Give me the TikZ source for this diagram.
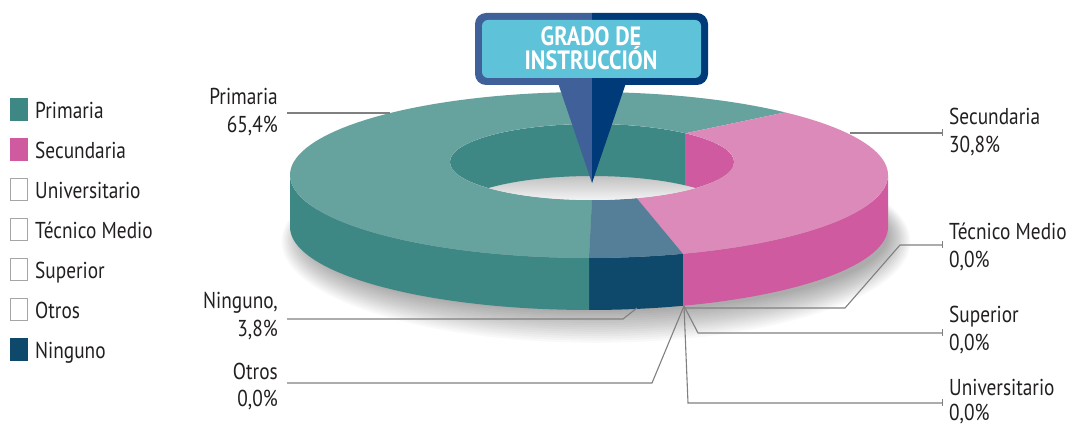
\documentclass[tikz,border=0pt]{standalone}
\usepackage{fontspec}
\setmainfont{PT Sans}[FakeStretch=0.84]
\usetikzlibrary{arrows.meta}
\definecolor{primTop}{RGB}{102,162,158}
\definecolor{primSide}{RGB}{61,136,132}
\definecolor{secTop}{RGB}{220,138,185}
\definecolor{secSide}{RGB}{208,90,160}
\definecolor{ninTop}{RGB}{85,127,152}
\definecolor{ninSide}{RGB}{14,72,106}
\definecolor{boxFill}{RGB}{94,194,216}
\definecolor{boxLeft}{RGB}{63,96,152}
\definecolor{boxRight}{RGB}{0,58,120}
\definecolor{leadGray}{RGB}{128,128,128}
\definecolor{emptyGray}{RGB}{165,165,165}
\definecolor{txt}{RGB}{35,31,32}
\def\ocx{589}\def\ocy{175}\def\orx{299}\def\ory{83}
\def\icx{592}\def\icy{162}\def\irx{142}\def\iry{38}
\def\dep{52}
\begin{document}
\begin{tikzpicture}[x=1pt,y=-1pt,
  leader/.style={draw=leadGray, line width=1.1pt},
  tickend/.style={-{Bar[width=7pt,line width=1.1pt]}},
  lbl/.style={inner sep=0pt, text=txt, font=\fontsize{23}{28}\selectfont},
  legbox/.style={line width=1.2pt},
  titletext/.style={inner sep=0pt, text=white, font=\fontsize{26.5}{24}\selectfont\bfseries}]
\useasboundingbox (0,0) rectangle (1069,427);
\fill[white] (0,0) rectangle (1069,427);
% shadow
\foreach \i in {0,...,14}{
  \fill[black, opacity=0.022] (596,236+0.4*\i) ellipse [x radius={292pt+1.6pt*\i}, y radius={76pt+1.8pt*\i}];
}
% side faces
\fill[secSide] plot[domain=0:71.7,samples=40] ({\ocx+\orx*cos(\x)},{\ocy+\ory*sin(\x)})
  -- plot[domain=71.7:0,samples=40] ({\ocx+\orx*cos(\x)},{\ocy+\dep+\ory*sin(\x)}) -- cycle;
\fill[ninSide] plot[domain=71.7:90,samples=10] ({\ocx+\orx*cos(\x)},{\ocy+\ory*sin(\x)})
  -- plot[domain=90:71.7,samples=10] ({\ocx+\orx*cos(\x)},{\ocy+\dep+\ory*sin(\x)}) -- cycle;
\fill[primSide] plot[domain=90:180,samples=50] ({\ocx+\orx*cos(\x)},{\ocy+\ory*sin(\x)})
  -- plot[domain=180:90,samples=50] ({\ocx+\orx*cos(\x)},{\ocy+\dep+\ory*sin(\x)}) -- cycle;
% top faces
\fill[primTop] plot[domain=90:311,samples=90] ({\ocx+\orx*cos(\x)},{\ocy+\ory*sin(\x)})
  -- plot[domain=311:90,samples=90] ({\icx+\irx*cos(\x)},{\icy+\iry*sin(\x)}) -- cycle;
\fill[secTop] plot[domain=311:431.7,samples=60] ({\ocx+\orx*cos(\x)},{\ocy+\ory*sin(\x)})
  -- plot[domain=431.7:311,samples=60] ({\icx+\irx*cos(\x)},{\icy+\iry*sin(\x)}) -- cycle;
\fill[ninTop] plot[domain=71.7:90,samples=10] ({\ocx+\orx*cos(\x)},{\ocy+\ory*sin(\x)})
  -- plot[domain=90:71.7,samples=10] ({\icx+\irx*cos(\x)},{\icy+\iry*sin(\x)}) -- cycle;
% hole
\begin{scope}
  \clip (\icx,\icy) ellipse [x radius=142pt, y radius=38pt];
  \fill[gray!10] (\icx,\icy) ellipse [x radius=142pt, y radius=38pt];
  \shade[top color=gray!55, bottom color=gray!6] (440,172) rectangle (740,202);
  \fill[primSide] plot[domain=180:311,samples=60] ({\icx+\irx*cos(\x)},{\icy+\iry*sin(\x)})
    -- plot[domain=311:180,samples=60] ({\icx+\irx*cos(\x)},{\icy+\dep+\iry*sin(\x)}) -- cycle;
  \fill[secSide] plot[domain=311:360,samples=30] ({\icx+\irx*cos(\x)},{\icy+\iry*sin(\x)})
    -- plot[domain=360:311,samples=30] ({\icx+\irx*cos(\x)},{\icy+\dep+\iry*sin(\x)}) -- cycle;
\end{scope}
% callout
\fill[boxLeft] (557,80) -- (592,80) -- (592,183) -- cycle;
\fill[boxRight] (592,80) -- (627,80) -- (592,183) -- cycle;
\begin{scope}
  \clip (400,0) rectangle (592,100);
  \fill[boxLeft, rounded corners=11pt] (475,13) rectangle (708,85);
\end{scope}
\begin{scope}
  \clip (592,0) rectangle (800,100);
  \fill[boxRight, rounded corners=11pt] (475,13) rectangle (708,85);
\end{scope}
\fill[boxFill, rounded corners=6pt] (482,20) rectangle (701,78);
\node[titletext, anchor=base] (title1) at (591,46) {GRADO DE};
\node[titletext, anchor=base] (title2) at (591,70) {INSTRUCCIÓN};
% legend
\foreach \nm/\lab/\yy/\col in {lp/Primaria/119/primSide, ls/Secundaria/159/secSide, ln/Ninguno/359/ninSide}{
  \fill[\col] (10,\yy-21) rectangle (28,\yy+2);
  \node[lbl, anchor=base west] (\nm) at (35,\yy) {\lab};
}
\foreach \nm/\lab/\yy in {lu/Universitario/199, lt/Técnico Medio/239, lsu/Superior/279, lo/Otros/319}{
  \draw[emptyGray, legbox, fill=white] (10.6,\yy-20.4) rectangle (27.4,\yy+1.4);
  \node[lbl, anchor=base west] (\nm) at (35,\yy) {\lab};
}
% data labels
\node[lbl, anchor=base east] (primA) at (278,105) {Primaria};
\node[lbl, anchor=base east] (primB) at (278,133) {65,4\%};
\node[lbl, anchor=base west] (secA) at (949,125) {Secundaria};
\node[lbl, anchor=base west] (secB) at (949,153) {30,8\%};
\node[lbl, anchor=base west] (tecA) at (949,240) {Técnico Medio};
\node[lbl, anchor=base west] (tecB) at (949,268) {0,0\%};
\node[lbl, anchor=base west] (supA) at (949,323) {Superior};
\node[lbl, anchor=base west] (supB) at (949,351) {0,0\%};
\node[lbl, anchor=base west] (uniA) at (949,396) {Universitario};
\node[lbl, anchor=base west] (uniB) at (949,421) {0,0\%};
\node[lbl, anchor=base east] (ninA) at (278,309) {Ninguno,};
\node[lbl, anchor=base east] (ninB) at (278,337) {3,8\%};
\node[lbl, anchor=base east] (otrA) at (278,380) {Otros};
\node[lbl, anchor=base east] (otrB) at (278,407) {0,0\%};
% leader coordinates
\coordinate (conv) at (684,306);
\coordinate (primP) at (390,113);
\coordinate (primE) at (287,113);
\coordinate (secP) at (850,133);
\coordinate (secE) at (943,133);
\coordinate (tec1) at (845,308);
\coordinate (tec2) at (900,245);
\coordinate (tecE) at (943,245);
\coordinate (sup1) at (698,333);
\coordinate (supE) at (943,333);
\coordinate (uni1) at (688,403);
\coordinate (uniE) at (943,403);
\coordinate (otr1) at (652,383);
\coordinate (otrE) at (287,383);
\coordinate (ninP) at (637,308);
\coordinate (nin1) at (623,319);
\coordinate (ninE) at (287,319);
% leaders
\draw[leader] (primP) -- (primE);
\draw[leader, tickend] (secP) -- (secE);
\draw[leader, tickend] (conv) |- (tec1) -- (tec2) -- (tecE);
\draw[leader, tickend] (conv) -- (sup1) -- (supE);
\draw[leader, tickend] (conv) -- (uni1) -- (uniE);
\draw[leader] (conv) -- (otr1) -- (otrE);
\draw[leader] (ninP) -- (nin1) -- (ninE);
\end{tikzpicture}
\end{document}
